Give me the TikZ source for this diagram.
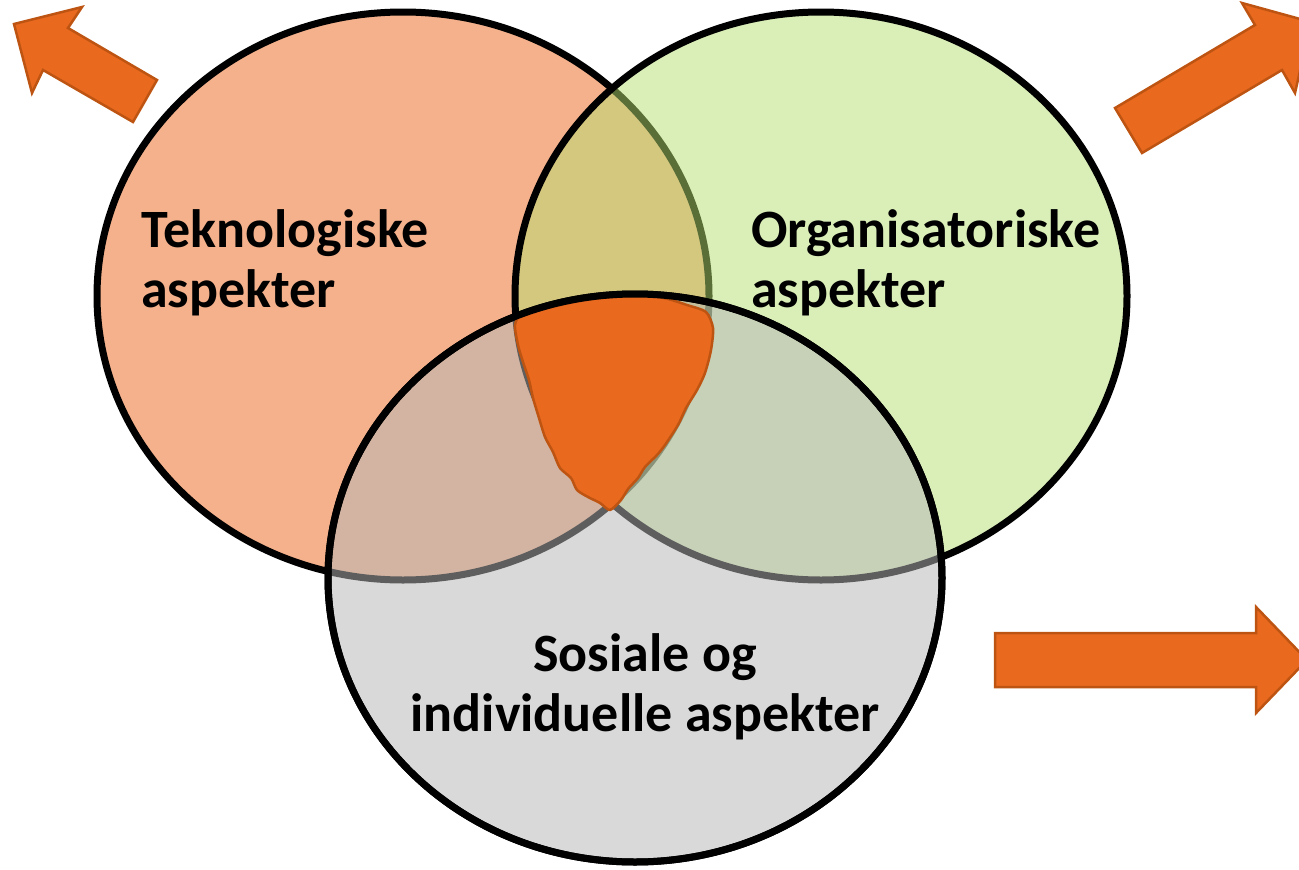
\documentclass[tikz,border=0pt]{standalone}
\usepackage{fontspec}
\setmainfont{Carlito}
\definecolor{salmonfill}{RGB}{244,177,140}
\definecolor{greenfill}{RGB}{181,221,113}
\definecolor{grayfill}{RGB}{182,182,182}
\definecolor{orangefill}{RGB}{233,105,31}
\definecolor{orangeline}{RGB}{190,84,18}
\tikzset{
  ring/.style={draw=black, line width=7pt},
  bigarrow/.style={fill=orangefill, draw=orangeline, line width=2.5pt, line join=miter},
  blobshape/.style={fill=orangefill, draw=orangeline, line width=2.5pt, line join=round},
  lbl/.style={font=\fontsize{54}{60}\selectfont\bfseries, inner sep=0pt, text=black}
}
\begin{document}
\begin{tikzpicture}[x=1pt,y=-1pt]
\useasboundingbox (0,0) rectangle (1299,870);
\clip (0,0) rectangle (1299,870);

% left ellipse
\fill[salmonfill] (403,296) ellipse [x radius=306pt, y radius=284pt];
\draw[ring] (403,296) ellipse [x radius=306pt, y radius=284pt];
% right ellipse
\fill[greenfill, fill opacity=0.5] (821,296) ellipse [x radius=306pt, y radius=284pt];
\draw[ring] (821,296) ellipse [x radius=306pt, y radius=284pt];
% bottom ellipse
\fill[grayfill, fill opacity=0.52] (635,578) ellipse [x radius=307pt, y radius=284pt];
\draw[ring] (635,578) ellipse [x radius=307pt, y radius=284pt];

% central blob
\draw[blobshape] plot[smooth cycle, tension=0.45] coordinates {
 (515,325) (522,313) (545,306) (567,302) (590,299) (612,297) (632,296)
 (650,296) (668,299) (687,305) (706,312) (713,328) (711,350) (705,373)
 (697,390) (686,408) (678,425) (665,445) (657,455) (645,467) (638,478)
 (628,489) (621,500) (610,510) (600,503) (588,497) (577,490) (571,478)
 (560,468) (553,452) (545,437) (539,418) (533,398) (529,380) (523,362)
 (518,345)};
\draw[ring] (635,578) ellipse [x radius=307pt, y radius=284pt];

% arrows
\draw[bigarrow] (133,122) -- (157,80) -- (68,28) -- (82,7) -- (14,24)
  -- (32,93) -- (43,70) -- cycle;
\draw[bigarrow] (1115,108) -- (1255,25) -- (1242,3) -- (1311,22)
  -- (1295,93) -- (1282,70) -- (1142,153) -- cycle;
\draw[bigarrow] (995,633) -- (1256,633) -- (1256,607) -- (1307,660)
  -- (1256,713) -- (1256,687) -- (995,687) -- cycle;

% labels
\node[lbl, anchor=base west] (tek1) at (141,247) {Teknologiske};
\node[lbl, anchor=base west] (tek2) at (141,307) {aspekter};
\node[lbl, anchor=base west] (org1) at (751,247) {Organisatoriske};
\node[lbl, anchor=base west] (org2) at (751,307) {aspekter};
\node[lbl, anchor=base] (sos1) at (645,671) {Sosiale og};
\node[lbl, anchor=base] (sos2) at (645,731) {individuelle aspekter};
\end{tikzpicture}
\end{document}
